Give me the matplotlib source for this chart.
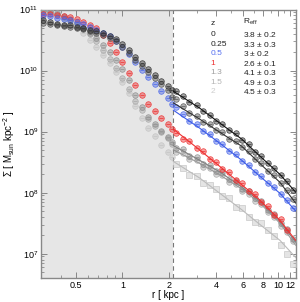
import numpy as np
import matplotlib
matplotlib.use("Agg")
import matplotlib.pyplot as plt
from matplotlib.ticker import FixedLocator, NullFormatter, LogLocator

plt.rcParams['font.family'] = ['Liberation Sans', 'DejaVu Sans']
plt.rcParams['mathtext.fontset'] = 'custom'
plt.rcParams['mathtext.rm'] = 'Liberation Sans'
plt.rcParams['mathtext.it'] = 'Liberation Sans:italic'

# radii of the measured points [kpc]
r_in = [0.31, 0.34, 0.38, 0.42, 0.46, 0.51, 0.56, 0.62, 0.68, 0.75, 0.83,
        0.91, 1.0, 1.1, 1.21, 1.33, 1.47, 1.62, 1.78, 1.96, 2.1]
r_out = [2.2, 2.45, 2.7, 3.0, 3.3, 3.65, 4.0, 4.4, 4.85, 5.35, 5.9, 6.5,
         7.1, 7.8, 8.6, 9.5, 10.4, 11.5, 12.6]
r_fit = [2.13, 3.14, 4.23, 5.86, 7.65, 10.3, 13.0]

# log10 surface density [Msun kpc^-2]
z0_in = [10.83, 10.79, 10.77, 10.75, 10.74, 10.72, 10.70, 10.67, 10.64, 10.61, 10.57,
         10.52, 10.43, 10.34, 10.22, 10.12, 10.02, 9.93, 9.83, 9.75, 9.68]
z0_out = [9.66, 9.58, 9.48, 9.43, 9.34, 9.27, 9.17, 9.12, 9.02, 8.98, 8.86, 8.79,
          8.66, 8.60, 8.48, 8.40, 8.29, 8.19, 8.04]
z0_fit = [9.66, 9.385, 9.14, 8.877, 8.60, 8.30, 8.01]

z025_in = [10.78, 10.76, 10.75, 10.73, 10.71, 10.70, 10.68, 10.65, 10.61, 10.58, 10.54,
           10.48, 10.39, 10.29, 10.17, 10.07, 9.98, 9.88, 9.78, 9.68, 9.57]
z025_out = [9.53, 9.42, 9.30, 9.25, 9.16, 9.12, 9.02, 8.99, 8.88, 8.84, 8.75, 8.68,
            8.55, 8.48, 8.35, 8.29, 8.16, 8.04, 7.89]
z025_fit = [9.47, 9.205, 8.99, 8.76, 8.48, 8.17, 7.83]

z05_in = [10.91, 10.89, 10.86, 10.84, 10.83, 10.80, 10.77, 10.72, 10.67, 10.61, 10.56,
          10.48, 10.39, 10.27, 10.14, 10.01, 9.89, 9.78, 9.66, 9.55, 9.45]
z05_out = [9.40, 9.29, 9.17, 9.12, 9.01, 8.96, 8.84, 8.79, 8.68, 8.63, 8.52, 8.45,
           8.34, 8.27, 8.16, 8.09, 7.98, 7.88, 7.75]
z05_fit = [9.35, 9.057, 8.81, 8.53, 8.27, 7.99, 7.70]

z1_in = [10.93, 10.92, 10.91, 10.89, 10.87, 10.84, 10.79, 10.75, 10.70, 10.58, 10.45,
         10.30, 10.14, 9.96, 9.76, 9.60, 9.45, 9.34, 9.22, 9.12, 9.04]
z1_out = [8.98, 8.88, 8.84, 8.73, 8.68, 8.55, 8.50, 8.39, 8.34, 8.20, 8.16, 8.02,
          7.98, 7.84, 7.78, 7.63, 7.57, 7.39]
z1_fit = [9.04, 8.70, 8.43, 8.13, 7.88, 7.55, 7.22]

z13_in = [10.98, 10.96, 10.93, 10.88, 10.83, 10.76, 10.70, 10.61, 10.53, 10.42, 10.30,
          10.17, 10.02, 9.84, 9.60, 9.40, 9.24, 9.12, 9.01, 8.91, 8.83]
z13_out = [8.73, 8.71, 8.60, 8.58, 8.47, 8.45, 8.35, 8.34, 8.22, 8.19, 8.06, 8.02,
           7.91, 7.86, 7.71, 7.65, 7.50, 7.40, 7.24]
z13_fit = [8.77, 8.53, 8.34, 8.09, 7.86, 7.53, 7.19]

z15_in = [11.0, 10.98, 10.94, 10.89, 10.84, 10.78, 10.70, 10.60, 10.48, 10.34, 10.19,
          10.04, 9.88, 9.70, 9.50, 9.35, 9.21, 9.09, 8.99, 8.89, 8.80]
z15_out = [8.66, 8.65, 8.55, 8.53, 8.42, 8.40, 8.30, 8.29, 8.17, 8.14, 8.02, 7.98,
           7.86, 7.81, 7.68, 7.60, 7.45, 7.35, 7.20]
z15_fit = [8.70, 8.48, 8.29, 8.06, 7.83, 7.50, 7.14]

z2_in = [10.99, 10.98, 10.93, 10.86, 10.80, 10.71, 10.61, 10.50, 10.39, 10.25, 10.12,
         9.98, 9.81, 9.63, 9.42, 9.22, 9.06, 8.93, 8.78, 8.66, 8.58]
z2_out = [8.47, 8.40, 8.29, 8.27, 8.16, 8.12, 8.06, 7.94, 7.91, 7.76, 7.75, 7.60,
          7.52, 7.50, 7.39, 7.29, 7.14, 6.99, 6.83]
z2_fit = [8.51, 8.24, 7.99, 7.72, 7.48, 7.22, 6.94]

z_labels = ["0", "0.25", "0.5", "1", "1.3", "1.5", "2"]
reff_labels = ["3.8 $\\pm$ 0.2", "3.3 $\\pm$ 0.3", "3 $\\pm$ 0.2", "2.6 $\\pm$ 0.1",
               "4.1 $\\pm$ 0.3", "4.9 $\\pm$ 0.3", "4.5 $\\pm$ 0.3"]
r_cut = 2.13

colors = ["#333333", "#555555", "#4a66e8", "#ee3030", "#909090", "#a8a8a8", "#c4c4c4"]
text_colors = ["#222222", "#222222", "#5570f0", "#ee3030", "#a0a0a0", "#b4b4b4", "#cccccc"]

fig = plt.figure(figsize=(3.0, 3.02), dpi=100)
ax = fig.add_axes([0.137, 0.0795, 0.85, 0.889])

ax.axvspan(0.3, r_cut, color="#e6e6e6", zorder=0, lw=0)
ax.axvline(r_cut, color="#777777", ls=(0, (4, 3)), lw=0.8, zorder=1)


def points(r, logs, col, marker="o", z=3):
    s = 10 ** np.array(logs)
    ax.plot(r[:len(s)], s, marker, ms=4.0, mfc=col, mec="none", alpha=0.45,
            ls="none", zorder=z)
    ax.plot(r[:len(s)], s, marker, ms=4.0, mfc="none", mec=col, alpha=0.9,
            mew=0.5, ls="none", zorder=z)
    if marker == "o":
        ax.plot(r[:len(s)], s, "_", ms=3.2, color=col, mew=0.5, ls="none", zorder=z)


series_in = [z0_in, z025_in, z05_in, z1_in, z13_in, z15_in, z2_in]
series_out = [z0_out, z025_out, z05_out, z1_out, z13_out, z15_out, z2_out]
series_fit = [z0_fit, z025_fit, z05_fit, z1_fit, z13_fit, z15_fit, z2_fit]
fit_colors = ["#111111", "#333333", "#3a5ae8", "#ee3030", "#808080", "#999999", "#bbbbbb"]

order = [6, 5, 4, 3, 2, 1, 0]
for k, i in enumerate(order):
    points(r_in, series_in[i], colors[i], z=3 + k)
    points(r_out, series_out[i], colors[i], marker="s" if i == 6 else "o", z=3 + k)
    ax.plot(r_fit, 10 ** np.array(series_fit[i]), color=fit_colors[i], lw=0.8, zorder=3 + k)

ax.set_xscale("log")
ax.set_yscale("log")
ax.set_xlim(0.3, 13.1)
ax.set_ylim(4e6, 1e11)

ax.xaxis.set_major_locator(FixedLocator([0.5, 1, 2, 4, 6, 8, 10, 12]))
ax.set_xticklabels(["0.5", "1", "2", "4", "6", "8", "10", "12"])
ax.xaxis.set_minor_locator(FixedLocator([0.3, 0.4, 0.6, 0.7, 0.8, 0.9, 3, 5, 7, 9, 11, 13]))
ax.xaxis.set_minor_formatter(NullFormatter())
ax.yaxis.set_major_locator(LogLocator(base=10, numticks=10))
ax.yaxis.set_minor_locator(LogLocator(base=10, subs=np.arange(2, 10), numticks=20))
ax.yaxis.set_minor_formatter(NullFormatter())

ax.tick_params(which="both", direction="in", top=True, right=True,
               labelsize=6.5, color="#777777", pad=2)
ax.tick_params(which="major", length=4, width=0.6)
ax.tick_params(which="minor", length=2, width=0.5)
for sp in ax.spines.values():
    sp.set_color("#888888")
    sp.set_linewidth(1.0)

ax.set_xlabel("r [ kpc ]", fontsize=7, labelpad=0)
ax.set_ylabel("$\\Sigma$ [ M$_{\\rm sun}$ kpc$^{-2}$ ]", fontsize=7, labelpad=2)

ax.text(0.665, 0.947, "z", transform=ax.transAxes, fontsize=6, va="center", color="#222222")
ax.text(0.79, 0.955, "R$_{\\rm eff}$", transform=ax.transAxes, fontsize=6, va="center",
        color="#222222")
for i in range(len(z_labels)):
    y = 0.907 - i * 0.0355
    ax.text(0.665, y, z_labels[i], transform=ax.transAxes, fontsize=6, va="center",
            color=text_colors[i])
    ax.text(0.79, y, reff_labels[i], transform=ax.transAxes, fontsize=6, va="center",
            color="#222222")

fig.savefig("out.png", dpi=100)
